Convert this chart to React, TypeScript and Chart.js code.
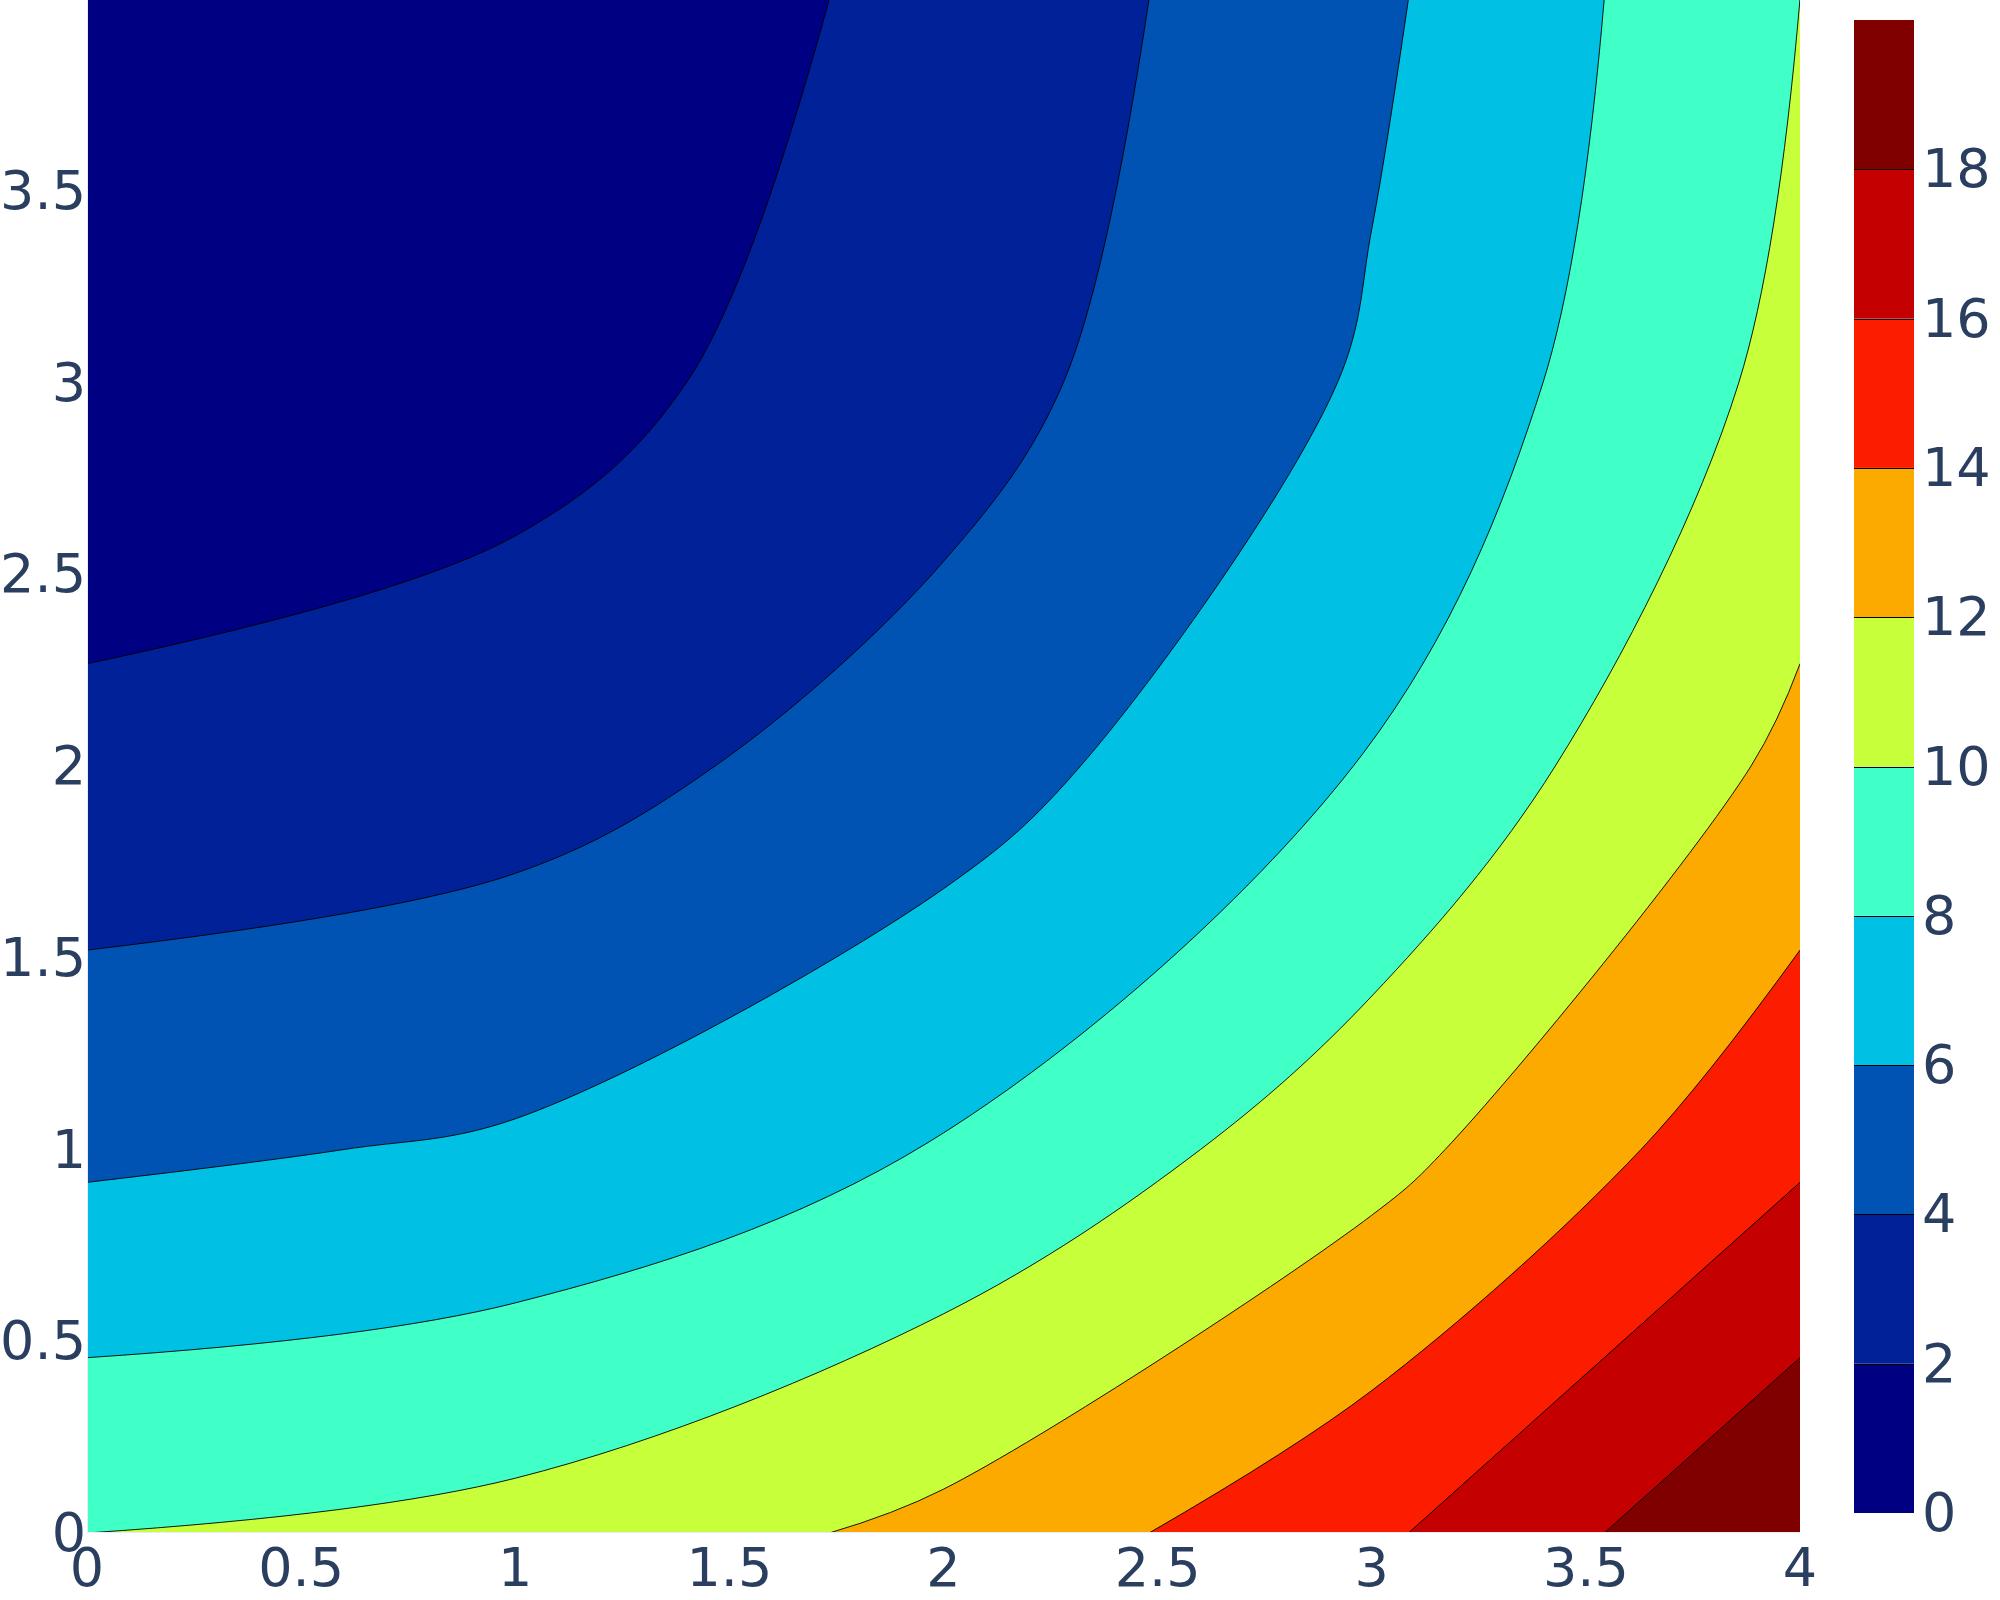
import React, { useEffect, useRef } from 'react';
import { Chart, registerables } from 'chart.js';

Chart.register(...registerables);

// ---- data ----
const xValues = [0, 1, 2, 3, 4];
const yValues = [0, 1, 2, 3, 4];
// z values, one array per y row
const zRowY0 = [10, 10.625, 12.5, 15.625, 20];
const zRowY1 = [5.625, 6.25, 8.125, 11.25, 15.625];
const zRowY2 = [2.5, 3.125, 5, 8.125, 12.5];
const zRowY3 = [0.625, 1.25, 3.125, 6.25, 10.625];
const zRowY4 = [0, 0.625, 2.5, 5.625, 10];

const contourLevels = [2, 4, 6, 8, 10, 12, 14, 16, 18];
const colorbarRange = [0, 20];
const bandColors = [
  'rgb(0,0,130)',
  'rgb(0,33,152)',
  'rgb(0,83,178)',
  'rgb(0,192,227)',
  'rgb(64,255,199)',
  'rgb(199,255,58)',
  'rgb(252,170,0)',
  'rgb(252,28,0)',
  'rgb(197,0,0)',
  'rgb(128,0,0)',
];
const xTickValues = [0, 0.5, 1, 1.5, 2, 2.5, 3, 3.5, 4];
const yTickValues = [0, 0.5, 1, 1.5, 2, 2.5, 3, 3.5];
const colorbarTickValues = [0, 2, 4, 6, 8, 10, 12, 14, 16, 18];

type Pt = [number, number];

const zGrid = [zRowY0, zRowY1, zRowY2, zRowY3, zRowY4];

function traceContour(z: number[][], L: number): Pt[] | null {
  const nx = xValues.length;
  const ny = yValues.length;
  const up = (i: number, j: number) => z[j][i] >= L;
  const crossing = (e: number[]): Pt | null => {
    const [t, i, j] = e;
    if (t === 0) {
      if (up(i, j) === up(i + 1, j)) return null;
      const a = z[j][i], b = z[j][i + 1];
      const f = (L - a) / (b - a);
      return [xValues[i] + f * (xValues[i + 1] - xValues[i]), yValues[j]];
    }
    if (up(i, j) === up(i, j + 1)) return null;
    const a = z[j][i], b = z[j + 1][i];
    const f = (L - a) / (b - a);
    return [xValues[i], yValues[j] + f * (yValues[j + 1] - yValues[j])];
  };
  const key = (e: number[]) => e.join(',');
  const isBoundary = (e: number[]) =>
    e[0] === 0 ? e[2] === 0 || e[2] === ny - 1 : e[1] === 0 || e[1] === nx - 1;
  const boundary: { edge: number[]; cell: number[] }[] = [];
  for (let i = 0; i < nx - 1; i++) boundary.push({ edge: [0, i, 0], cell: [i, 0] });
  for (let j = 0; j < ny - 1; j++) boundary.push({ edge: [1, nx - 1, j], cell: [nx - 2, j] });
  for (let i = nx - 2; i >= 0; i--) boundary.push({ edge: [0, i, ny - 1], cell: [i, ny - 2] });
  for (let j = ny - 2; j >= 0; j--) boundary.push({ edge: [1, 0, j], cell: [0, j] });
  const start = boundary.find((b) => crossing(b.edge));
  if (!start) return null;
  const visited = new Set<string>([key(start.edge)]);
  const pts: Pt[] = [crossing(start.edge) as Pt];
  let cell = start.cell;
  for (let guard = 0; guard < 1000; guard++) {
    const [ci, cj] = cell;
    if (ci < 0 || cj < 0 || ci > nx - 2 || cj > ny - 2) break;
    const edges = [
      [0, ci, cj],
      [1, ci + 1, cj],
      [0, ci, cj + 1],
      [1, ci, cj],
    ];
    const next = edges.find((e) => !visited.has(key(e)) && crossing(e));
    if (!next) break;
    visited.add(key(next));
    pts.push(crossing(next) as Pt);
    if (isBoundary(next)) break;
    if (next[0] === 0) cell = next[2] === cj ? [ci, cj - 1] : [ci, cj + 1];
    else cell = next[1] === ci ? [ci - 1, cj] : [ci + 1, cj];
  }
  return pts;
}

function mergeClose(input: Pt[]): Pt[] {
  const pts = input.slice();
  if (pts.length < 3) return pts;
  const dists: number[] = [];
  let total = 0;
  for (let k = 1; k < pts.length; k++) {
    const d = Math.hypot(pts[k][0] - pts[k - 1][0], pts[k][1] - pts[k - 1][1]);
    dists.push(d);
    total += d;
  }
  const thr = (total / dists.length) * 0.2;
  for (let cnt = pts.length - 2; cnt >= 0; cnt--) {
    let thisdist = dists[cnt];
    if (thisdist < thr) {
      let cnt2;
      for (cnt2 = cnt - 1; cnt2 >= 0; cnt2--) {
        if (thisdist + dists[cnt2] < thr) thisdist += dists[cnt2];
        else break;
      }
      const ptavg = cnt - cnt2 + 1;
      const mid = Math.floor((cnt + cnt2 + 2) / 2);
      let newpt: Pt;
      if (cnt === pts.length - 2) newpt = pts[pts.length - 1];
      else if (cnt2 === -1) newpt = pts[0];
      else if (ptavg % 2) newpt = pts[mid];
      else newpt = [(pts[mid][0] + pts[mid + 1][0]) / 2, (pts[mid][1] + pts[mid + 1][1]) / 2];
      pts.splice(cnt2 + 1, cnt - cnt2 + 1, newpt);
      cnt = cnt2 + 1;
    }
  }
  return pts;
}

function makeTangent(prev: Pt, cur: Pt, next: Pt, smoothness: number): [Pt, Pt] {
  const e = 0.5;
  const d1x = prev[0] - cur[0], d1y = prev[1] - cur[1];
  const d2x = next[0] - cur[0], d2y = next[1] - cur[1];
  const d1a = Math.pow(d1x * d1x + d1y * d1y, e / 2);
  const d2a = Math.pow(d2x * d2x + d2y * d2y, e / 2);
  const numx = (d2a * d2a * d1x - d1a * d1a * d2x) * smoothness;
  const numy = (d2a * d2a * d1y - d1a * d1a * d2y) * smoothness;
  const den1 = 3 * d2a * (d1a + d2a);
  const den2 = 3 * d1a * (d1a + d2a);
  return [
    [cur[0] + (den1 ? numx / den1 : 0), cur[1] + (den1 ? numy / den1 : 0)],
    [cur[0] - (den2 ? numx / den2 : 0), cur[1] - (den2 ? numy / den2 : 0)],
  ];
}

function smoothPath(ctx: CanvasRenderingContext2D, pts: Pt[]) {
  ctx.moveTo(pts[0][0], pts[0][1]);
  if (pts.length < 3) {
    for (let i = 1; i < pts.length; i++) ctx.lineTo(pts[i][0], pts[i][1]);
    return;
  }
  const t: [Pt, Pt][] = [];
  for (let i = 1; i < pts.length - 1; i++) t.push(makeTangent(pts[i - 1], pts[i], pts[i + 1], 1));
  ctx.quadraticCurveTo(t[0][0][0], t[0][0][1], pts[1][0], pts[1][1]);
  for (let i = 2; i < pts.length - 1; i++) {
    ctx.bezierCurveTo(t[i - 2][1][0], t[i - 2][1][1], t[i - 1][0][0], t[i - 1][0][1], pts[i][0], pts[i][1]);
  }
  const n = pts.length;
  ctx.quadraticCurveTo(t[n - 3][1][0], t[n - 3][1][1], pts[n - 1][0], pts[n - 1][1]);
}

function perimeterCorners(z: number[][], L: number, from: Pt, to: Pt): Pt[] {
  const nx = xValues.length, ny = yValues.length;
  const xa = xValues[0], xb = xValues[nx - 1], ya = yValues[0], yb = yValues[ny - 1];
  const W = xb - xa, H = yb - ya, total = 2 * W + 2 * H;
  const eps = 1e-9;
  const param = (p: Pt) => {
    if (Math.abs(p[1] - ya) < eps) return p[0] - xa;
    if (Math.abs(p[0] - xb) < eps) return W + (p[1] - ya);
    if (Math.abs(p[1] - yb) < eps) return W + H + (xb - p[0]);
    return 2 * W + H + (yb - p[1]);
  };
  const corners = [
    { p: [xa, ya] as Pt, t: 0, up: z[0][0] >= L },
    { p: [xb, ya] as Pt, t: W, up: z[0][nx - 1] >= L },
    { p: [xb, yb] as Pt, t: W + H, up: z[ny - 1][nx - 1] >= L },
    { p: [xa, yb] as Pt, t: 2 * W + H, up: z[ny - 1][0] >= L },
  ];
  const mod = (v: number) => ((v % total) + total) % total;
  const tf = param(from), tt = param(to);
  const fwdLen = mod(tt - tf), bwdLen = mod(tf - tt);
  const fwd = corners
    .map((c) => ({ c, d: mod(c.t - tf) }))
    .filter((o) => o.d > eps && o.d < fwdLen - eps)
    .sort((a, b) => a.d - b.d)
    .map((o) => o.c);
  const bwd = corners
    .map((c) => ({ c, d: mod(tf - c.t) }))
    .filter((o) => o.d > eps && o.d < bwdLen - eps)
    .sort((a, b) => a.d - b.d)
    .map((o) => o.c);
  let chosen;
  if (fwd.length && fwd.every((c) => c.up)) chosen = fwd;
  else if (bwd.length && bwd.every((c) => c.up)) chosen = bwd;
  else if (!fwd.length) chosen = fwd;
  else chosen = bwd;
  return chosen.map((c) => c.p);
}

const contourPlugin = {
  id: 'contourFill',
  beforeDatasetsDraw(chart: any) {
    const { ctx, chartArea: ca, scales } = chart;
    const xs = scales.x, ys = scales.y, cb = scales.cbar;
    const px = (p: Pt): Pt => [xs.getPixelForValue(p[0]), ys.getPixelForValue(p[1])];

    ctx.save();
    ctx.fillStyle = '#E5ECF6';
    ctx.fillRect(ca.left, ca.top, ca.right - ca.left, ca.bottom - ca.top);
    ctx.beginPath();
    ctx.rect(ca.left + 1, ca.top, ca.right - ca.left - 1, ca.bottom - ca.top - 1);
    ctx.clip();

    const gx0 = xs.getPixelForValue(xValues[0]);
    const gx1 = xs.getPixelForValue(xValues[xValues.length - 1]);
    const gy0 = ys.getPixelForValue(yValues[0]);
    const gy1 = ys.getPixelForValue(yValues[yValues.length - 1]);
    ctx.fillStyle = bandColors[0];
    ctx.fillRect(Math.min(gx0, gx1), Math.min(gy0, gy1), Math.abs(gx1 - gx0), Math.abs(gy1 - gy0));

    const linePaths: Pt[][] = [];
    contourLevels.forEach((L, k) => {
      const path = traceContour(zGrid, L);
      if (!path || path.length < 2) return;
      const merged = mergeClose(path);
      const pix = merged.map(px);
      ctx.beginPath();
      smoothPath(ctx, pix);
      const corners = perimeterCorners(zGrid, L, merged[merged.length - 1], merged[0]);
      corners.forEach((c) => {
        const p = px(c);
        ctx.lineTo(p[0], p[1]);
      });
      ctx.closePath();
      ctx.fillStyle = bandColors[k + 1];
      ctx.fill();
      linePaths.push(pix);
    });
    ctx.strokeStyle = 'rgba(0,0,0,0.9)';
    ctx.lineWidth = 1;
    linePaths.forEach((pix) => {
      ctx.beginPath();
      smoothPath(ctx, pix);
      ctx.stroke();
    });
    ctx.restore();

    // colorbar
    ctx.save();
    const barLeft = ca.right + 54;
    const barWidth = 60;
    const bounds = [colorbarRange[0], ...contourLevels, colorbarRange[1]];
    for (let k = 0; k < bandColors.length; k++) {
      const yTop = cb.getPixelForValue(bounds[k + 1]);
      const yBot = cb.getPixelForValue(bounds[k]);
      ctx.fillStyle = bandColors[k];
      ctx.fillRect(barLeft, yTop, barWidth, yBot - yTop);
    }
    ctx.strokeStyle = '#000';
    ctx.lineWidth = 1;
    contourLevels.forEach((L) => {
      const y = Math.round(cb.getPixelForValue(L)) + 0.5;
      ctx.beginPath();
      ctx.moveTo(barLeft, y);
      ctx.lineTo(barLeft + barWidth, y);
      ctx.stroke();
    });
    ctx.restore();
  },
};

const tickFont = { family: 'DejaVu Sans', size: 54 };
const tickColor = '#2a3f5f';

function zeroPad(s: any) {
  s.paddingLeft = 0;
  s.paddingRight = 0;
  s.paddingTop = 0;
  s.paddingBottom = 0;
}

export default function App() {
  const ref = useRef<HTMLCanvasElement | null>(null);
  useEffect(() => {
    if (!ref.current) return;
    const gridPoints: { x: number; y: number; z: number }[] = [];
    yValues.forEach((y, j) => xValues.forEach((x, i) => gridPoints.push({ x, y, z: zGrid[j][i] })));
    const chart = new Chart(ref.current, {
      type: 'scatter',
      data: {
        datasets: [{ data: gridPoints as any, pointRadius: 0, pointHoverRadius: 0, showLine: false }],
      },
      options: {
        animation: false,
        responsive: false,
        maintainAspectRatio: false,
        layout: { padding: 0 },
        events: [],
        plugins: { legend: { display: false }, tooltip: { enabled: false }, title: { display: false } },
        scales: {
          x: {
            type: 'linear',
            position: 'bottom',
            min: 0,
            max: 4,
            grid: { display: false, drawTicks: false, tickLength: 0 },
            border: { display: false },
            ticks: {
              font: tickFont,
              color: tickColor,
              padding: 7,
              autoSkip: false,
              maxRotation: 0,
              callback: (v: any) => String(v),
            },
            afterBuildTicks: (s: any) => {
              s.ticks = xTickValues.map((v) => ({ value: v }));
            },
            afterFit: (s: any) => {
              s.height = 67;
              zeroPad(s);
            },
          },
          y: {
            type: 'linear',
            position: 'left',
            min: 0,
            max: 3.9974,
            grid: { display: false, drawTicks: false, tickLength: 0 },
            border: { display: false },
            ticks: {
              font: tickFont,
              color: tickColor,
              padding: 1,
              labelOffset: 4,
              autoSkip: false,
              callback: (v: any) => String(v),
            },
            afterBuildTicks: (s: any) => {
              s.ticks = yTickValues.map((v) => ({ value: v }));
            },
            afterFit: (s: any) => {
              s.width = 87;
              zeroPad(s);
            },
          },
          cbar: {
            type: 'linear',
            position: 'right',
            min: -0.268,
            max: 20.268,
            grid: { display: false, drawTicks: false, tickLength: 0 },
            border: { display: false },
            ticks: {
              font: tickFont,
              color: tickColor,
              padding: 122,
              labelOffset: 4,
              autoSkip: false,
              callback: (v: any) => String(v),
            },
            afterBuildTicks: (s: any) => {
              s.ticks = colorbarTickValues.map((v) => ({ value: v }));
            },
            afterFit: (s: any) => {
              s.width = 200;
              zeroPad(s);
            },
          },
        },
      } as any,
      plugins: [contourPlugin],
    });
    return () => chart.destroy();
  }, []);
  return (
    <div style={{ position: 'absolute', left: 0, top: 0, width: 2000, height: 1600, background: '#fff' }}>
      <canvas ref={ref} width={2000} height={1600} style={{ display: 'block', width: 2000, height: 1600 }} />
    </div>
  );
}
